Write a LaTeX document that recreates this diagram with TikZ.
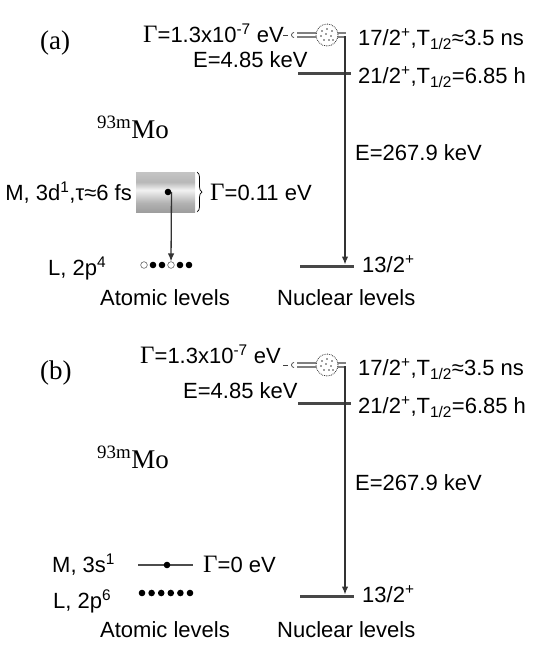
\documentclass[tikz,border=0pt]{standalone}
\usepackage{fontspec}
\setmainfont{Liberation Sans}
\newfontfamily\serf{Liberation Serif}
\usetikzlibrary{arrows.meta,decorations.pathreplacing,calc}
\pgfdeclareverticalshading{boxshade}{55bp}{%
  color(0bp)=(black!40); color(14bp)=(black!30); color(30bp)=(black!5);
  color(40bp)=(black!28); color(55bp)=(black!22)}
\newcommand{\Gam}{{\serf\fontsize{25}{25}\selectfont Γ}}
\begin{document}
\begin{tikzpicture}[x=1pt,y=-1pt,
  txt/.style={font=\fontsize{22}{26}\selectfont, inner sep=0pt, anchor=base west},
  big/.style={font=\serf\fontsize{27}{30}\selectfont, inner sep=0pt, anchor=base west},
  lev/.style={line width=3pt, draw=black!72},
  tr/.style={draw=black!80, line width=1.3pt, -{Latex[length=8pt,width=6.5pt]}},
  elec/.style={circle, fill=black, inner sep=0pt, minimum size=6.6pt},
  hole/.style={circle, fill=white, draw=black!60, line width=0.6pt, inner sep=0pt, minimum size=6.6pt},
  small/.style={draw=black!75, line width=0.7pt},
  blob/.style={circle, minimum size=22pt, inner sep=0pt, draw=black!80, densely dotted, line width=0.8pt, fill=white}]
\useasboundingbox (0,0) rectangle (555,648);

% ---------------- panel (a) ----------------
\node[big] (pa) at (40,49) {(a)};
\node[big] (moa) at (97,138) {\textsuperscript{93m}Mo};
% band of the 17/2+ level
\coordinate (bandLa) at (297,35);
\coordinate (bandRa) at (346,35);
\draw[line width=5.5pt, black!50] (bandLa) -- (bandRa);
\draw[line width=1.8pt, white] (bandLa) -- (bandRa);
\draw[small] (283,35) -- (288,35);
\draw[small] (294,32.5) arc (270:90:2.5);
\node[blob] (ca) at (327,35) {};
\foreach \dx/\dy in {-5/-4,0/-6,5/-4,-6/1,-1/-1,4/1,-3/5,2/5,6/5}
  \fill[black!75] ($(ca)+(\dx,\dy)$) circle (0.9);
% levels
\coordinate (l21La) at (298,73);
\coordinate (l21Ra) at (351,73);
\draw[lev] (l21La) -- (l21Ra);
\coordinate (l13La) at (300,266);
\coordinate (l13Ra) at (354,266);
\draw[lev] (l13La) -- (l13Ra);
\coordinate (vta) at (345,36);
\coordinate (vba) at (345,264.5);
\draw[tr] (vta) -- (vba);
% nuclear labels
\node[txt] (ga) at (143,42) {\Gam=1.3x10\textsuperscript{-7} eV};
\node[txt] (ea) at (193,67) {E=4.85 keV};
\node[txt] (s17a) at (358,45) {17/2\textsuperscript{+},T\textsubscript{1/2}≈3.5 ns};
\node[txt] (s21a) at (358,83) {21/2\textsuperscript{+},T\textsubscript{1/2}=6.85 h};
\node[txt] (eea) at (355,160) {E=267.9 keV};
\node[txt] (s13a) at (362,272) {13/2\textsuperscript{+}};
% atomic part
\node[minimum width=59pt, minimum height=40pt, inner sep=0pt, shading=boxshade] (boxa) at (165.5,192) {};
\node[elec] (da) at (168,192) {};
\draw[line width=0.7pt, decorate, decoration={brace, amplitude=5pt}] (197,172) -- (197,212);
\node[txt] (gwa) at (210,200) {\Gam=0.11 eV};
\node[txt, anchor=base east] (ma) at (132,200) {M, 3d\textsuperscript{1},τ≈6 fs};
\node[hole] (la1) at (144,265) {};
\node[elec] (la2) at (153,265) {};
\node[elec] (la3) at (162,265) {};
\node[hole] (la4) at (171,265) {};
\node[elec] (la5) at (180,265) {};
\node[elec] (la6) at (189,265) {};
\draw[tr] (da.east) -- (la4.north);
\node[txt] (lta) at (48,275) {L, 2p\textsuperscript{4}};
\node[txt] (ata) at (100,305) {Atomic levels};
\node[txt] (nua) at (277,305) {Nuclear levels};

% ---------------- panel (b) ----------------
\node[big] (pb) at (40,379) {(b)};
\node[big] (mob) at (97,468) {\textsuperscript{93m}Mo};
\coordinate (bandLb) at (297,365);
\coordinate (bandRb) at (346,365);
\draw[line width=5.5pt, black!50] (bandLb) -- (bandRb);
\draw[line width=1.8pt, white] (bandLb) -- (bandRb);
\draw[small] (283,365) -- (288,365);
\draw[small] (294,362.5) arc (270:90:2.5);
\node[blob] (cb) at (327,365) {};
\foreach \dx/\dy in {-5/-4,0/-6,5/-4,-6/1,-1/-1,4/1,-3/5,2/5,6/5}
  \fill[black!75] ($(cb)+(\dx,\dy)$) circle (0.9);
\coordinate (l21Lb) at (298,403);
\coordinate (l21Rb) at (351,403);
\draw[lev] (l21Lb) -- (l21Rb);
\coordinate (l13Lb) at (300,596);
\coordinate (l13Rb) at (354,596);
\draw[lev] (l13Lb) -- (l13Rb);
\coordinate (vtb) at (345,366);
\coordinate (vbb) at (345,594.5);
\draw[tr] (vtb) -- (vbb);
\node[txt] (gb) at (140,363) {\Gam=1.3x10\textsuperscript{-7} eV};
\node[txt] (eb) at (183,398) {E=4.85 keV};
\node[txt] (s17b) at (358,375) {17/2\textsuperscript{+},T\textsubscript{1/2}≈3.5 ns};
\node[txt] (s21b) at (358,413) {21/2\textsuperscript{+},T\textsubscript{1/2}=6.85 h};
\node[txt] (eeb) at (355,490) {E=267.9 keV};
\node[txt] (s13b) at (362,602) {13/2\textsuperscript{+}};
% atomic part
\coordinate (mLb) at (138,565);
\coordinate (mRb) at (193,565);
\draw[line width=2.4pt, black!70] (mLb) -- (mRb);
\node[elec] (db) at (167,565) {};
\node[txt] (gwb) at (203,572) {\Gam=0 eV};
\node[txt] (mb) at (52,572) {M, 3s\textsuperscript{1}};
\foreach \i/\x in {1/142,2/151.6,3/161.2,4/170.8,5/180.4,6/190}
  \node[elec] (lb\i) at (\x,593) {};
\node[txt] (ltb) at (53,608) {L, 2p\textsuperscript{6}};
\node[txt] (atb) at (100,637) {Atomic levels};
\node[txt] (nub) at (277,637) {Nuclear levels};
\end{tikzpicture}
\end{document}
